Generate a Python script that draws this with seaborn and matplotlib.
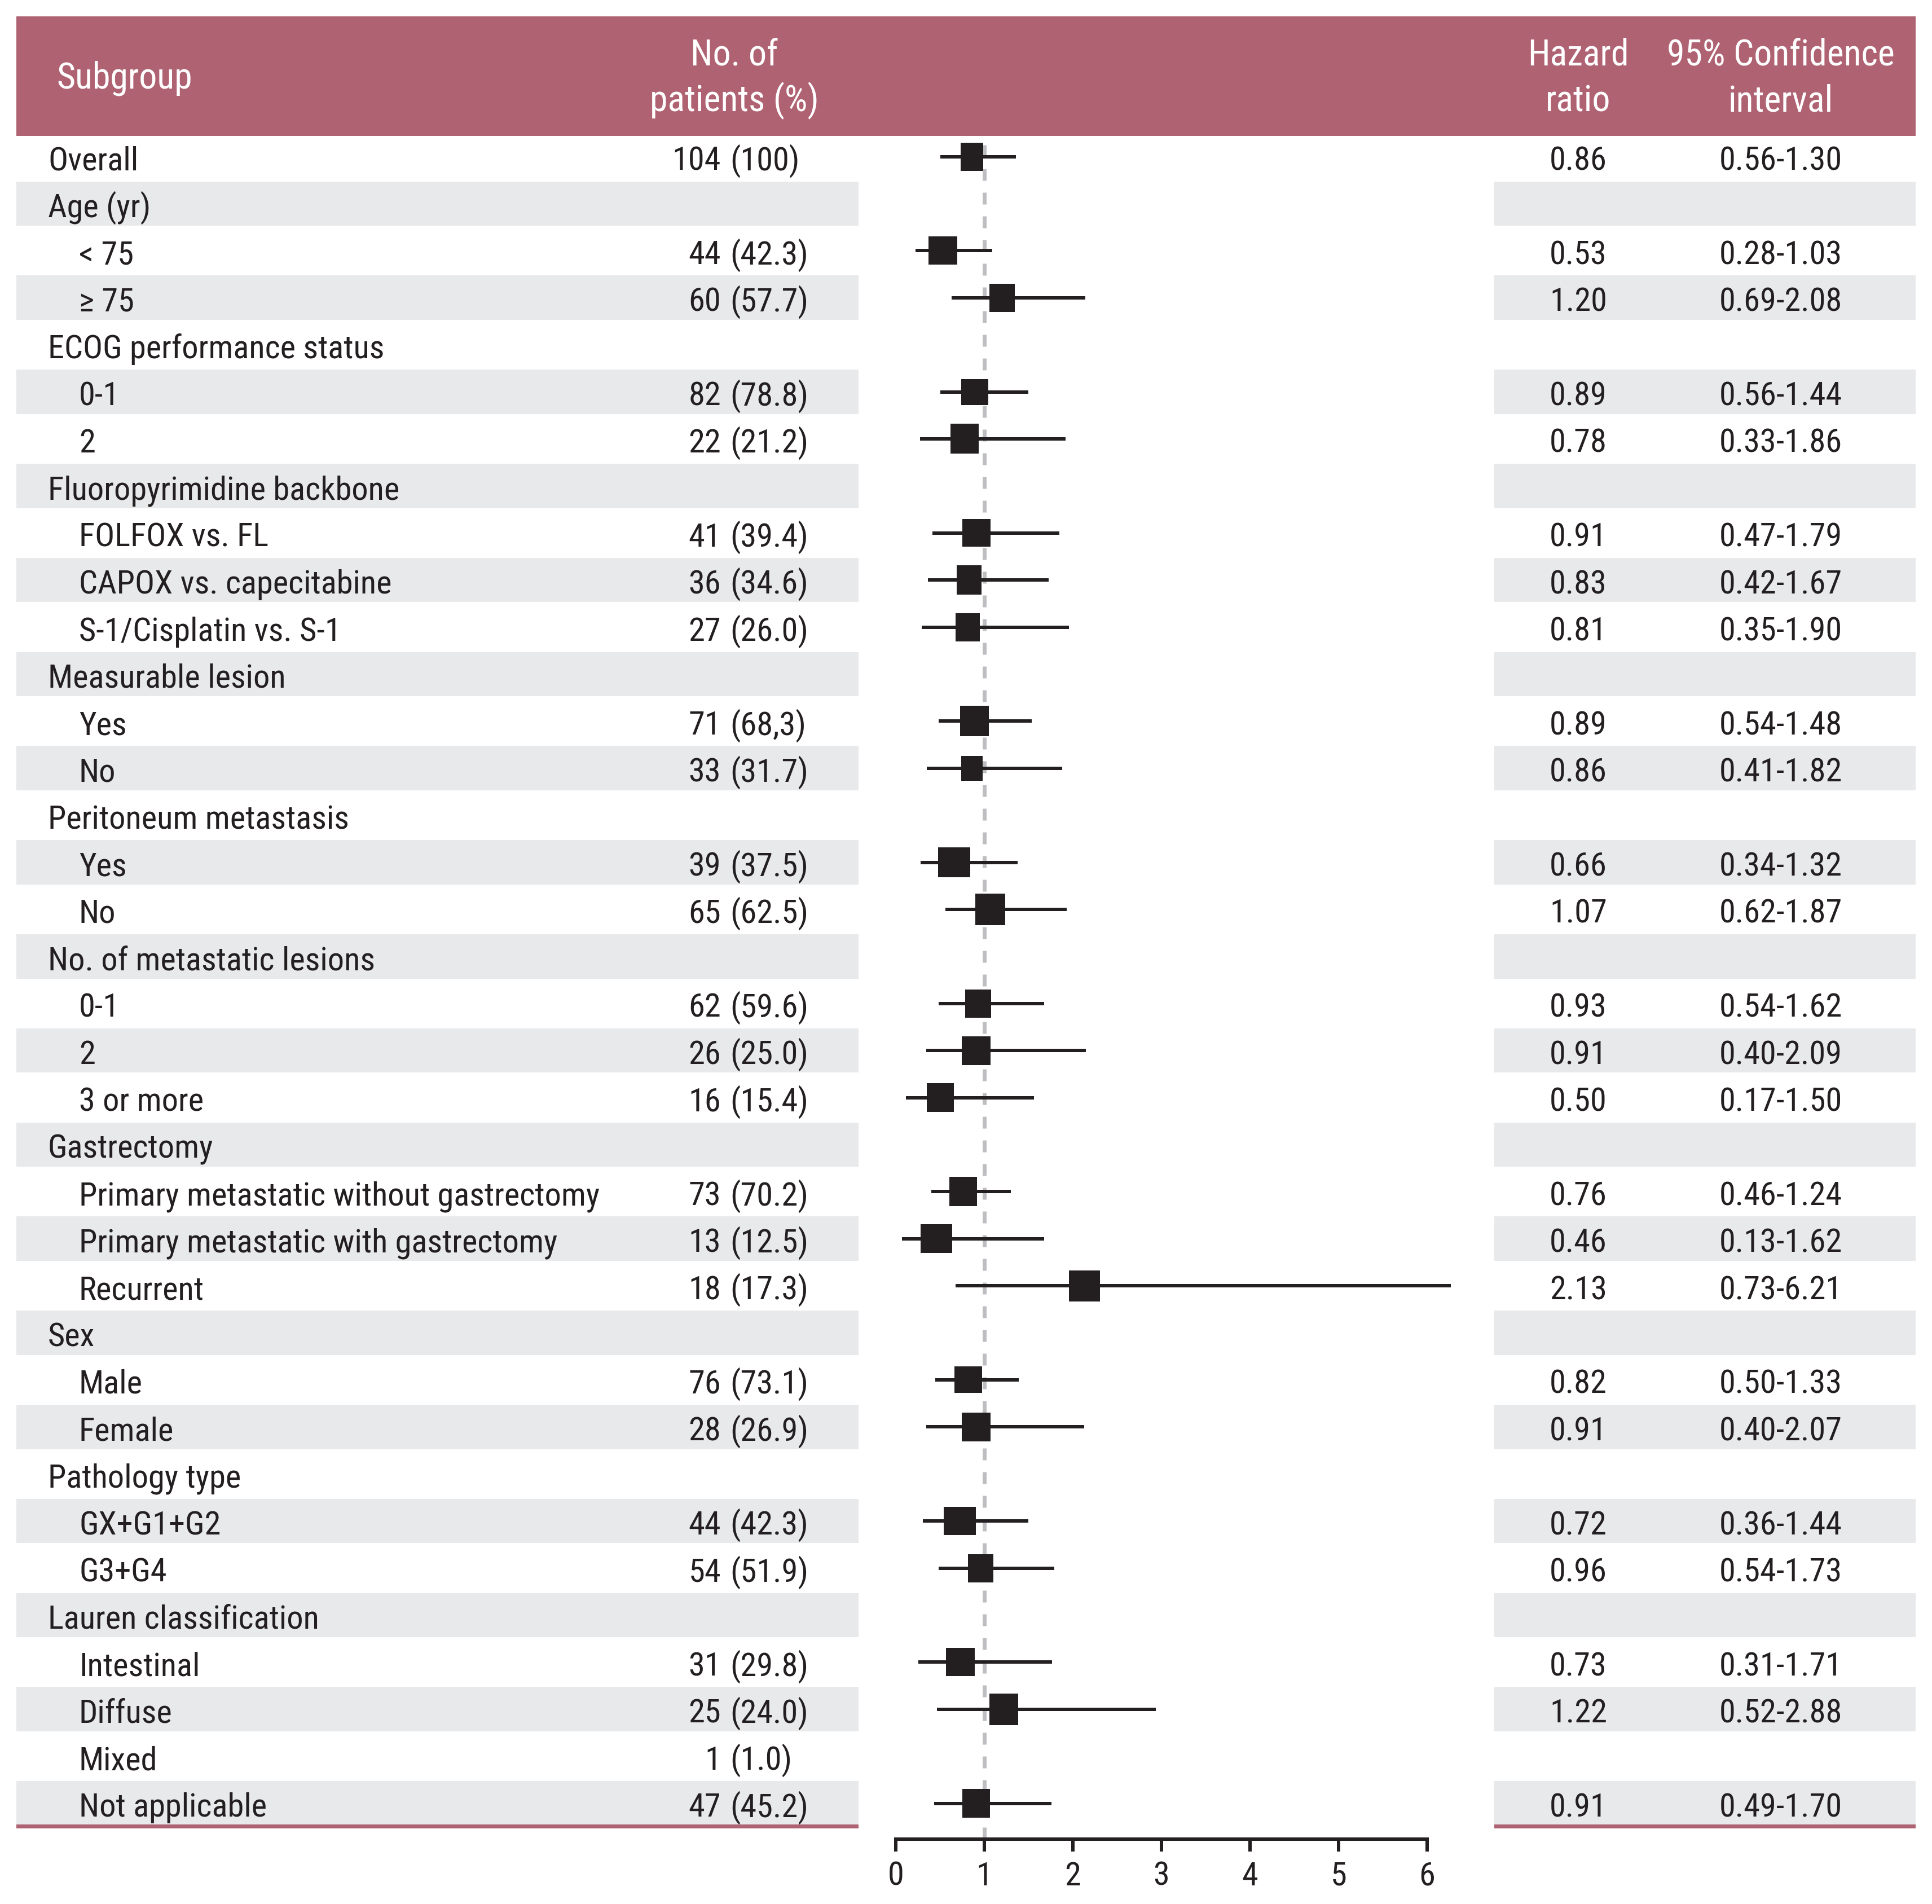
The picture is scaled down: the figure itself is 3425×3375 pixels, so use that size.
import numpy as np
import pandas as pd
import matplotlib
matplotlib.use("Agg")
import matplotlib.pyplot as plt
from matplotlib.patches import Rectangle
from matplotlib import font_manager as fm
import seaborn as sns

# ------------------------------------------------------------------ data
labels = ["Overall", "Age (yr)", "< 75", "\u2265 75", "ECOG performance status", "0-1", "2",
          "Fluoropyrimidine backbone", "FOLFOX vs. FL", "CAPOX vs. capecitabine",
          "S-1/Cisplatin vs. S-1", "Measurable lesion", "Yes", "No", "Peritoneum metastasis",
          "Yes", "No", "No. of metastatic lesions", "0-1", "2", "3 or more", "Gastrectomy",
          "Primary metastatic without gastrectomy", "Primary metastatic with gastrectomy",
          "Recurrent", "Sex", "Male", "Female", "Pathology type", "GX+G1+G2", "G3+G4",
          "Lauren classification", "Intestinal", "Diffuse", "Mixed", "Not applicable"]
indent = [0, 0, 1, 1, 0, 1, 1, 0, 1, 1, 1, 0, 1, 1, 0, 1, 1, 0, 1, 1, 1, 0, 1, 1, 1,
          0, 1, 1, 0, 1, 1, 0, 1, 1, 1, 1]
n_patients = ["104", "", "44", "60", "", "82", "22", "", "41", "36", "27", "", "71", "33",
              "", "39", "65", "", "62", "26", "16", "", "73", "13", "18", "", "76", "28",
              "", "44", "54", "", "31", "25", "1", "47"]
n_percent = ["100", "", "42.3", "57.7", "", "78.8", "21.2", "", "39.4", "34.6", "26.0", "",
             "68,3", "31.7", "", "37.5", "62.5", "", "59.6", "25.0", "15.4", "", "70.2",
             "12.5", "17.3", "", "73.1", "26.9", "", "42.3", "51.9", "", "29.8", "24.0",
             "1.0", "45.2"]
nan = np.nan
hazard_ratio = [0.86, nan, 0.53, 1.20, nan, 0.89, 0.78, nan, 0.91, 0.83, 0.81, nan, 0.89,
                0.86, nan, 0.66, 1.07, nan, 0.93, 0.91, 0.50, nan, 0.76, 0.46, 2.13, nan,
                0.82, 0.91, nan, 0.72, 0.96, nan, 0.73, 1.22, nan, 0.91]
ci_lower = [0.56, nan, 0.28, 0.69, nan, 0.56, 0.33, nan, 0.47, 0.42, 0.35, nan, 0.54, 0.41,
            nan, 0.34, 0.62, nan, 0.54, 0.40, 0.17, nan, 0.46, 0.13, 0.73, nan, 0.50, 0.40,
            nan, 0.36, 0.54, nan, 0.31, 0.52, nan, 0.49]
ci_upper = [1.30, nan, 1.03, 2.08, nan, 1.44, 1.86, nan, 1.79, 1.67, 1.90, nan, 1.48, 1.82,
            nan, 1.32, 1.87, nan, 1.62, 2.09, 1.50, nan, 1.24, 1.62, 6.21, nan, 1.33, 2.07,
            nan, 1.44, 1.73, nan, 1.71, 2.88, nan, 1.70]
x_ticks = [0, 1, 2, 3, 4, 5, 6]

# ------------------------------------------------------------------ style / layout
W, H, DPI = 3425, 3375, 100
PX = 72 / DPI                       # pixels -> points
HEADER_COLOR = "#AF6272"
BAND_COLOR = "#E8E9EB"
DARK = "#231F20"
REF_COLOR = "#BDBEC1"
ROW0, PITCH = 277.5, 83.4
BAND_H = 78.5
HEADER_TOP, HEADER_BOT = 29, 241
TABLE_L, TABLE_R = 29, 3396
LEFT_BAND, RIGHT_BAND = (29, 1522), (2649, 3396)
AXIS_Y = 3260
X0_PX, X6_PX = 1588, 2530
FS, HFS = 42, 46
BASE = 24
WHISKER_OVERHANG_PX = 9            # the printed whiskers run slightly past the CI ends
# marker box sizes (pixels), for the rows that carry an estimate, top to bottom
box_w = [40, 51, 45, 48, 50, 50, 44, 43, 51, 38, 57, 53, 46, 51, 48, 49, 56, 55, 49, 51,
         57, 45, 51, 51, 49]
box_h = [50, 50, 50, 46, 53, 49, 52, 50, 54, 44, 53, 56, 50, 51, 51, 52, 51, 55, 47, 51,
         50, 50, 50, 56, 51]

sns.set_theme(style="white")
avail = {f.name for f in fm.fontManager.ttflist}
main_font = next((f for f in ["Liberation Sans Narrow", "Roboto Condensed", "Liberation Sans"]
                  if f in avail), "DejaVu Sans")
plt.rcParams["font.family"] = [main_font, "DejaVu Sans"]

df = pd.DataFrame({"label": labels, "hr": hazard_ratio, "lo": ci_lower, "hi": ci_upper})
df["row"] = np.arange(len(df))


def row_y(i):
    return ROW0 + PITCH * i


fig = plt.figure(figsize=(W / DPI, H / DPI), dpi=DPI)
fig.patch.set_facecolor("white")

# ---------------- table layer (pixel coordinates)
bg = fig.add_axes([0, 0, 1, 1])
bg.set_xlim(0, W)
bg.set_ylim(H, 0)
bg.axis("off")
bg.set_zorder(0)

bg.add_patch(Rectangle((TABLE_L, HEADER_TOP), TABLE_R - TABLE_L, HEADER_BOT - HEADER_TOP,
                       facecolor=HEADER_COLOR, lw=0))
for i in range(len(labels)):
    if i % 2 == 1:
        for a, b in (LEFT_BAND, RIGHT_BAND):
            bg.add_patch(Rectangle((a, row_y(i) - BAND_H / 2), b - a, BAND_H,
                                   facecolor=BAND_COLOR, lw=0))
for a, b in (LEFT_BAND, RIGHT_BAND):
    bg.add_patch(Rectangle((a, 3234), b - a, 7, facecolor=HEADER_COLOR, lw=0))

txt = dict(va="baseline", fontsize=FS, color=DARK)
for i, lab in enumerate(labels):
    y = row_y(i) + BASE
    bg.text(85 if indent[i] == 0 else 140, y, lab, ha="left", **txt)
    if n_patients[i]:
        bg.text(1278, y, n_patients[i], ha="right", **txt)
        bg.text(1294, y, f"({n_percent[i]})", ha="left", **txt)
    if not np.isnan(hazard_ratio[i]):
        bg.text(2798, y, f"{hazard_ratio[i]:.2f}", ha="center", **txt)
        bg.text(3157, y, f"{ci_lower[i]:.2f}-{ci_upper[i]:.2f}", ha="center", **txt)

htxt = dict(va="baseline", fontsize=HFS, color="white")
bg.text(100, 157, "Subgroup", ha="left", **htxt)
bg.text(1302, 115, "No. of", ha="center", **htxt)
bg.text(1302, 197, "patients (%)", ha="center", **htxt)
bg.text(2798, 115, "Hazard", ha="center", **htxt)
bg.text(2798, 197, "ratio", ha="center", **htxt)
bg.text(3157, 115, "95% Confidence", ha="center", **htxt)
bg.text(3157, 197, "interval", ha="center", **htxt)

# ---------------- forest layer (hazard-ratio scale)
fx = fig.add_axes([X0_PX / W, 1 - AXIS_Y / H, (X6_PX - X0_PX) / W, (AXIS_Y - HEADER_BOT) / H])
fx.set_zorder(1)
fx.patch.set_alpha(0)
fx.set_xlim(0, 6)
fx.set_ylim((AXIS_Y - ROW0) / PITCH, (HEADER_BOT - ROW0) / PITCH)

fx.axvline(1, color=REF_COLOR, lw=7 * PX, linestyle=(0, (3, 3)), zorder=1)

est = df.dropna(subset=["hr"]).reset_index(drop=True)
ext = WHISKER_OVERHANG_PX * 6 / (X6_PX - X0_PX)
fx.hlines(est["row"], est["lo"] - ext, est["hi"] + ext, colors=DARK, lw=6 * PX, zorder=2,
          clip_on=False)

for k, r in est.iterrows():
    w, h = box_w[k], box_h[k]
    verts = [(-w, -h), (w, -h), (w, h), (-w, h), (-w, -h)]
    sns.scatterplot(x=[r["hr"]], y=[r["row"]], ax=fx, marker=verts,
                    s=(max(w, h) * PX) ** 2, color=DARK, edgecolor="none", linewidth=0,
                    zorder=3, legend=False)

fx.set_xlim(0, 6)
fx.set_ylim((AXIS_Y - ROW0) / PITCH, (HEADER_BOT - ROW0) / PITCH)
for s in ["top", "right", "left"]:
    fx.spines[s].set_visible(False)
fx.spines["bottom"].set_linewidth(6 * PX)
fx.spines["bottom"].set_color(DARK)
fx.set_yticks([])
fx.set_xticks(x_ticks)
fx.set_xticklabels([str(t) for t in x_ticks])
fx.tick_params(axis="x", bottom=True, direction="out", length=22 * PX, width=6 * PX,
               color=DARK, labelsize=FS, labelcolor=DARK, pad=12)
fx.set_xlabel("")
fx.set_ylabel("")
fx.grid(False)

fig.savefig("out.png", dpi=DPI, facecolor="white")
